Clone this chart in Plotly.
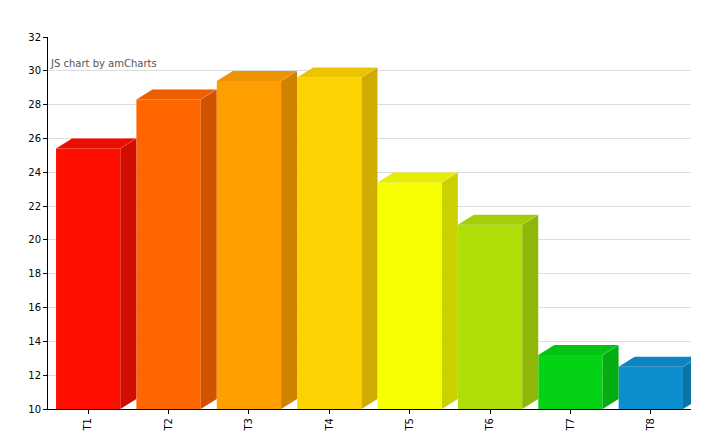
import plotly.graph_objects as go

categories = ["T1", "T2", "T3", "T4", "T5", "T6", "T7", "T8"]
values = [25.4, 28.3, 29.4, 29.6, 23.4, 20.9, 13.2, 12.5]
colors = ["#FF0F00", "#FF6600", "#FF9E01", "#FCD202", "#F8FF01", "#B0DE09", "#04D215", "#0D8ECF"]

def shade(c, f):
    r, g, b = int(c[1:3], 16), int(c[3:5], 16), int(c[5:7], 16)
    return "rgb(%d,%d,%d)" % (min(255, r * f), min(255, g * f), min(255, b * f))

W, H = 721, 440
ml, mr, mt, mb = 40, 38, 29, 39
ymin, ymax = 10, 32
upp = (ymax - ymin) / (H - mt - mb)
dx, dy = 16, 10
bw = 0.8

xs = list(range(len(categories)))
fig = go.Figure(go.Bar(x=xs, y=values, width=bw, base=0, marker=dict(color=colors, line=dict(width=0)),
                       hoverinfo="x+y"))
shapes = []
for i, v in enumerate(values):
    c = colors[i]
    shapes.append(dict(type="path", xref="x", yref="y", xsizemode="pixel", xanchor=i + bw / 2,
                       path=f"M0,{ymin} L0,{v} L{dx},{v + dy * upp} L{dx},{ymin + dy * upp} Z",
                       fillcolor=shade(c, 0.82), line=dict(width=0), layer="above"))
    shapes.append(dict(type="path", xref="x", yref="y", xsizemode="pixel", xanchor=i - bw / 2,
                       path=f"M0,{v} L64,{v} L{64 + dx},{v + dy * upp} L{dx},{v + dy * upp} Z",
                       fillcolor=shade(c, 0.93), line=dict(width=0), layer="above"))
fig.update_layout(
    width=W, height=H, margin=dict(l=ml, r=mr, t=mt, b=mb),
    plot_bgcolor="white", paper_bgcolor="white", bargap=0.2, showlegend=False,
    font=dict(family="DejaVu Sans", size=10, color="#000"),
    shapes=shapes,
    xaxis=dict(tickmode="array", tickvals=xs, ticktext=categories, range=[-0.5, 7.5],
               tickangle=-90, showgrid=False, showline=True, linecolor="#000", ticks="outside",
               ticklen=4, tickcolor="#000", automargin=False),
    yaxis=dict(range=[ymin, ymax], dtick=2, gridcolor="#ddd", showline=True, linecolor="#000",
               ticks="outside", ticklen=4, tickcolor="#000", zeroline=False, automargin=False),
    annotations=[dict(text="JS chart by amCharts", xref="paper", yref="paper", x=0, y=0.95,
                      xanchor="left", showarrow=False, font=dict(size=10, color="#555"))],
)
fig.write_html("out.html")
